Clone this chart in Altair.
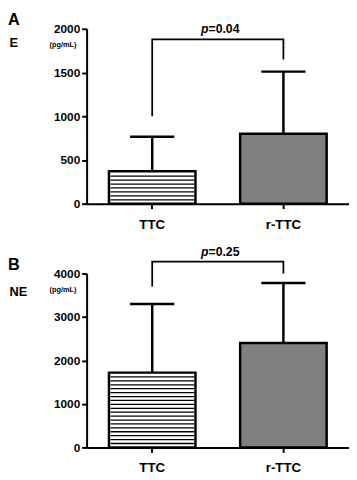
import altair as alt
import pandas as pd

categories = ["TTC", "r-TTC"]

# Panel A: E (pg/mL)
e_mean = [370, 800]
e_err_top = [765, 1510]
e_bracket_top = 1880
e_bracket_ends = [1000, 1650]
e_p = "0.04"

# Panel B: NE (pg/mL)
ne_mean = [1720, 2400]
ne_err_top = [3300, 3780]
ne_bracket_top = 4270
ne_bracket_ends = [3700, 4000]
ne_p = "0.25"

FONT = "Liberation Sans"


def panel(letter, ylabel, mean, err_top, br_top, br_ends, pval, ymax, ystep, hatch_step, h, ytitle_y):
    bars = pd.DataFrame({"cat": categories, "mean": mean, "err": err_top})
    bracket = pd.DataFrame({
        "cat": [categories[0], categories[0], categories[1], categories[1]],
        "y": [br_ends[0], br_top, br_top, br_ends[1]],
        "o": [0, 1, 2, 3],
    })
    ptxt = pd.DataFrame({"cat": [categories[1]], "y": [br_top], "p": ["p"], "v": ["=" + pval]})

    xs = alt.Scale(domain=categories, paddingInner=0, paddingOuter=0)
    ys = alt.Scale(domain=[0, ymax], nice=False)
    xax = alt.Axis(title=None, labelAngle=0, labelFont=FONT, labelFontSize=13.5,
                   labelFontWeight="bold", labelColor="black", labelPadding=9,
                   domainColor="black", domainWidth=2, tickColor="black", tickWidth=2,
                   tickSize=5)
    yax = alt.Axis(title=ylabel, titleAngle=0, titleX=-79, titleY=ytitle_y, titleAlign="left",
                   titleBaseline="middle", titleFont=FONT, titleFontSize=13,
                   titleFontWeight="bold", titleColor="black", format="d",
                   values=list(range(0, ymax + 1, ystep)), grid=False, labelFont=FONT,
                   labelFontSize=12, labelFontWeight="bold", labelColor="black",
                   labelPadding=2, domainColor="black", domainWidth=2, tickColor="black",
                   tickWidth=2, tickSize=5)

    base = alt.Chart(bars)
    bar = base.mark_bar(size=88, stroke="black", strokeWidth=2.5).encode(
        x=alt.X("cat:N", scale=xs, axis=xax),
        y=alt.Y("mean:Q", scale=ys, axis=yax),
        fill=alt.Fill("cat:N", scale=alt.Scale(domain=categories, range=["white", "#808080"]),
                      legend=None),
    )
    hatch = alt.Chart(alt.sequence(start=hatch_step, stop=mean[0], step=hatch_step, as_="v")).transform_filter(
        f"datum.v < {mean[0]} - {hatch_step} * 0.4"
    ).transform_calculate(cat=f"'{categories[0]}'").mark_tick(
        orient="horizontal", size=85, thickness=1.3, color="black", opacity=1
    ).encode(x=alt.X("cat:N", scale=xs), y=alt.Y("v:Q", scale=ys))
    errs = base.mark_rule(color="black", strokeWidth=2.5).encode(
        x=alt.X("cat:N", scale=xs), y=alt.Y("mean:Q", scale=ys), y2="err:Q"
    )
    caps = base.mark_tick(orient="horizontal", size=45, thickness=2.5, color="black", opacity=1).encode(
        x=alt.X("cat:N", scale=xs), y=alt.Y("err:Q", scale=ys)
    )
    br = alt.Chart(bracket).mark_line(color="black", strokeWidth=1.8, clip=False).encode(
        x=alt.X("cat:N", scale=xs), y=alt.Y("y:Q", scale=ys), order="o:Q"
    )
    p1 = alt.Chart(ptxt).mark_text(font=FONT, fontSize=12.5, fontWeight="bold", fontStyle="italic",
                                   align="left", baseline="bottom", dx=-17, dy=-3, color="black").encode(
        x=alt.X("cat:N", scale=xs, bandPosition=0), y=alt.Y("y:Q", scale=ys), text="p:N"
    )
    p2 = alt.Chart(ptxt).mark_text(font=FONT, fontSize=12.5, fontWeight="bold",
                                   align="left", baseline="bottom", dx=-9.5, dy=-3, color="black").encode(
        x=alt.X("cat:N", scale=xs, bandPosition=0), y=alt.Y("y:Q", scale=ys), text="v:N"
    )
    unit = alt.Chart(pd.DataFrame({"t": ["(pg/mL)"]})).mark_text(
        font=FONT, fontSize=7.5, fontWeight="bold", align="center", baseline="middle", color="black"
    ).encode(x=alt.value(-24), y=alt.value(17), text="t:N")
    lett = alt.Chart(pd.DataFrame({"t": [letter]})).mark_text(
        font=FONT, fontSize=16.5, fontWeight="bold", align="left", baseline="alphabetic", color="black"
    ).encode(x=alt.value(-80), y=alt.value(-4), text="t:N")

    return alt.layer(bar, hatch, errs, caps, br, p1, p2, unit, lett).properties(width=267, height=h)


a = panel("A", "E", e_mean, e_err_top, e_bracket_top, e_bracket_ends, e_p, 2000, 500, 45, 178, 14)
b = panel("B", "NE", ne_mean, ne_err_top, ne_bracket_top, ne_bracket_ends, ne_p, 4000, 1000, 90, 177, 18)

chart = alt.vconcat(a, b, spacing=15).properties(padding=0).configure_view(stroke=None)

chart.save("out.html", embed_options={"renderer": "svg", "actions": False})
